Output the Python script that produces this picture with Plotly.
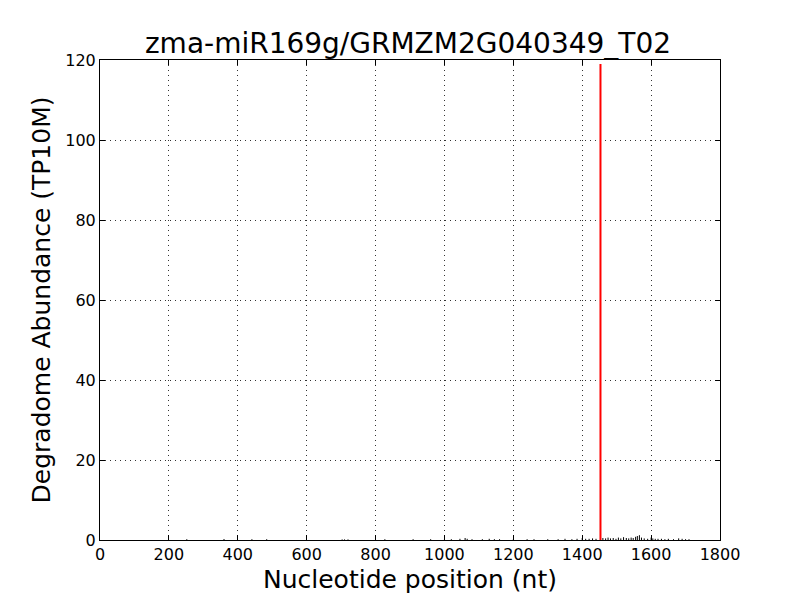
import plotly.graph_objects as go

title = "zma-miR169g/GRMZM2G040349_T02"
x_label = "Nucleotide position (nt)"
y_label = "Degradome Abundance (TP10M)"

# background degradome reads (position, abundance)
bg_pos = [252, 360, 441, 484, 703, 710, 720, 827, 909, 960, 1000, 1020, 1045, 1060, 1066, 1080,
          1110, 1130, 1145, 1160, 1200, 1240, 1260, 1300, 1330, 1350, 1370, 1385, 1400, 1410,
          1420, 1430, 1440, 1460, 1468, 1475, 1482, 1490, 1498, 1505, 1512, 1520, 1528, 1535,
          1542, 1548, 1555, 1560, 1566, 1572, 1580, 1590, 1600, 1605, 1612, 1620, 1630, 1640,
          1650, 1665, 1680, 1690, 1700, 1710]
bg_val = [0.2, 0.25, 0.2, 0.2, 0.15, 0.15, 0.15, 0.2, 0.2, 0.2, 0.2, 0.2, 0.3, 0.5, 0.3, 0.2,
          0.2, 0.3, 0.2, 0.2, 0.2, 0.2, 0.2, 0.2, 0.2, 0.3, 0.2, 0.3, 0.5, 0.3,
          0.3, 0.4, 0.3, 0.5, 0.4, 0.6, 0.4, 0.5, 0.3, 0.6, 0.4, 0.7, 0.5, 0.4,
          0.6, 0.5, 0.8, 1.0, 1.2, 0.6, 0.4, 0.3, 0.6, 0.4, 0.3, 0.3, 0.3, 0.2,
          0.3, 0.2, 0.4, 0.3, 0.2, 0.2]

# miRNA cleavage site
site_pos = [1453]
site_val = [119]

def stems(xs, ys):
    X, Y = [], []
    for a, b in zip(xs, ys):
        X += [a, a, None]
        Y += [0, b, None]
    return X, Y

bx, by = stems(bg_pos, bg_val)
rx, ry = stems(site_pos, site_val)

fig = go.Figure()
fig.add_trace(go.Scatter(x=bx, y=by, mode="lines", line=dict(color="black", width=1),
                         hoverinfo="skip", showlegend=False))
fig.add_trace(go.Scatter(x=rx, y=ry, mode="lines", line=dict(color="red", width=2),
                         showlegend=False))

font = "DejaVu Sans"
axis_common = dict(showline=True, linecolor="black", linewidth=1, mirror="ticks",
                   ticks="inside", ticklen=5, tickcolor="black",
                   showgrid=True, gridcolor="#333333", griddash="1px,4px", gridwidth=1,
                   zeroline=False, automargin=False,
                   tickfont=dict(family=font, size=16, color="black"))

fig.update_layout(
    width=800, height=600,
    paper_bgcolor="white", plot_bgcolor="white",
    margin=dict(l=92, r=88, t=52, b=68),
    title=dict(text=title, x=0.5, xanchor="center", y=0.942, yanchor="middle",
               automargin=False,
               font=dict(family=font, size=28, color="black")),
    xaxis=dict(range=[0, 1800], dtick=200, tick0=0,
               title=dict(text=x_label, font=dict(family=font, size=25, color="black"), standoff=7),
               **axis_common),
    yaxis=dict(range=[0, 120], dtick=20, tick0=0,
               title=dict(text=y_label, font=dict(family=font, size=25, color="black"), standoff=7),
               **axis_common),
)

fig.write_html("out.html")
